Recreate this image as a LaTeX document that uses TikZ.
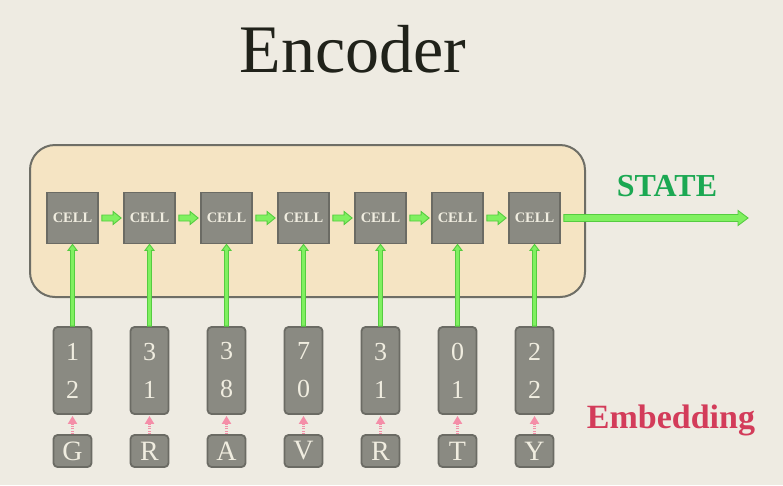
\documentclass[tikz,border=0pt]{standalone}
\usepackage{fontspec}
\setmainfont{Liberation Serif}
\usetikzlibrary{calc,arrows.meta}
\definecolor{bg}{HTML}{EEEBE2}
\definecolor{contfill}{HTML}{F5E4C3}
\definecolor{contline}{HTML}{6E6E66}
\definecolor{cellfill}{HTML}{8A8A82}
\definecolor{cellline}{HTML}{6B6B64}
\definecolor{celltext}{HTML}{F0EDE0}
\definecolor{glight}{HTML}{80F060}
\definecolor{gdark}{HTML}{55CC40}
\definecolor{pinkarr}{HTML}{F48EA8}
\definecolor{stategreen}{HTML}{1BA852}
\definecolor{embred}{HTML}{D33C5A}
\definecolor{titlecol}{HTML}{20221A}
\tikzset{
  container/.style={draw=contline, fill=contfill, line width=2pt, rounded corners=25pt, minimum width=555pt, minimum height=152pt},
  cellbox/.style={draw=cellline, fill=cellfill, line width=1.8pt, minimum width=51pt, minimum height=51pt, text=celltext, font=\bfseries\fontsize{14.5}{16}\selectfont, inner sep=0pt},
  embbox/.style={draw=cellline, fill=cellfill, line width=1.8pt, rounded corners=4pt, minimum width=38pt, minimum height=87pt, text=celltext, font=\fontsize{26}{38}\selectfont, align=center, inner sep=0pt},
  letterbox/.style={draw=cellline, fill=cellfill, line width=1.8pt, rounded corners=4pt, minimum width=38pt, minimum height=32pt, text=celltext, font=\fontsize{28}{30}\selectfont, inner sep=0pt},
  gblock/.style={draw=gdark, fill=glight, line width=0.9pt, line join=miter},
  pinkarrow/.style={draw=pinkarr, line width=3pt, dash pattern=on 1.2pt off 1.2pt, shorten >=1pt, -{Triangle[length=8pt,width=9pt]}},
}
\newcommand\hblock[5]{% from, to, shaft half, head half, head length
  \draw[gblock] ($(#1)+(0,-#3)$) -- ($(#2)+(-#5,-#3)$) -- ($(#2)+(-#5,-#4)$) -- (#2)
    -- ($(#2)+(-#5,#4)$) -- ($(#2)+(-#5,#3)$) -- ($(#1)+(0,#3)$) -- cycle;}
\newcommand\vblock[2]{% from (bottom), to (top)
  \draw[gblock] ($(#1)+(-2,0)$) -- ($(#2)+(-2,6)$) -- ($(#2)+(-4.5,6)$) -- (#2)
    -- ($(#2)+(4.5,6)$) -- ($(#2)+(2,6)$) -- ($(#1)+(2,0)$) -- cycle;}
\begin{document}
\begin{tikzpicture}[x=1pt,y=-1pt]
\fill[bg] (0,0) rectangle (783,485);
\useasboundingbox (0,0) rectangle (783,485);

\node[text=titlecol, font=\fontsize{68}{70}\selectfont] (title) at (353,49) {Encoder};

\node[container] (enc) at (307.5,221) {};

\foreach \i/\a/\b/\l in {1/1/2/G,2/3/1/R,3/3/8/A,4/7/0/V,5/3/1/R,6/0/1/T,7/2/2/Y}{
  \pgfmathsetmacro\xx{72.5+77*(\i-1)}
  \node[cellbox] (c\i) at (\xx,218) {CELL};
  \node[embbox] (e\i) at (\xx,370.5) {\a\\\b};
  \node[letterbox] (l\i) at (\xx,451) {\l};
}

\foreach \i in {1,...,7}{
  \vblock{e\i.north}{c\i.south}
  \draw[pinkarrow] (l\i.north) -- (e\i.south);
}
\foreach \i/\j in {1/2,2/3,3/4,4/5,5/6,6/7}{
  \hblock{$(c\i.east)+(3,0)$}{$(c\j.west)+(-2,0)$}{3}{6.5}{8}
}
\coordinate (stateend) at (748,218);
\hblock{$(c7.east)+(3,0)$}{stateend}{3.5}{7.5}{10}

\node[text=stategreen, font=\bfseries\fontsize{32}{34}\selectfont] (state) at (667,186) {STATE};
\node[text=embred, font=\bfseries\fontsize{34}{36}\selectfont] (embl) at (671,420) {Embedding};
\end{tikzpicture}
\end{document}
